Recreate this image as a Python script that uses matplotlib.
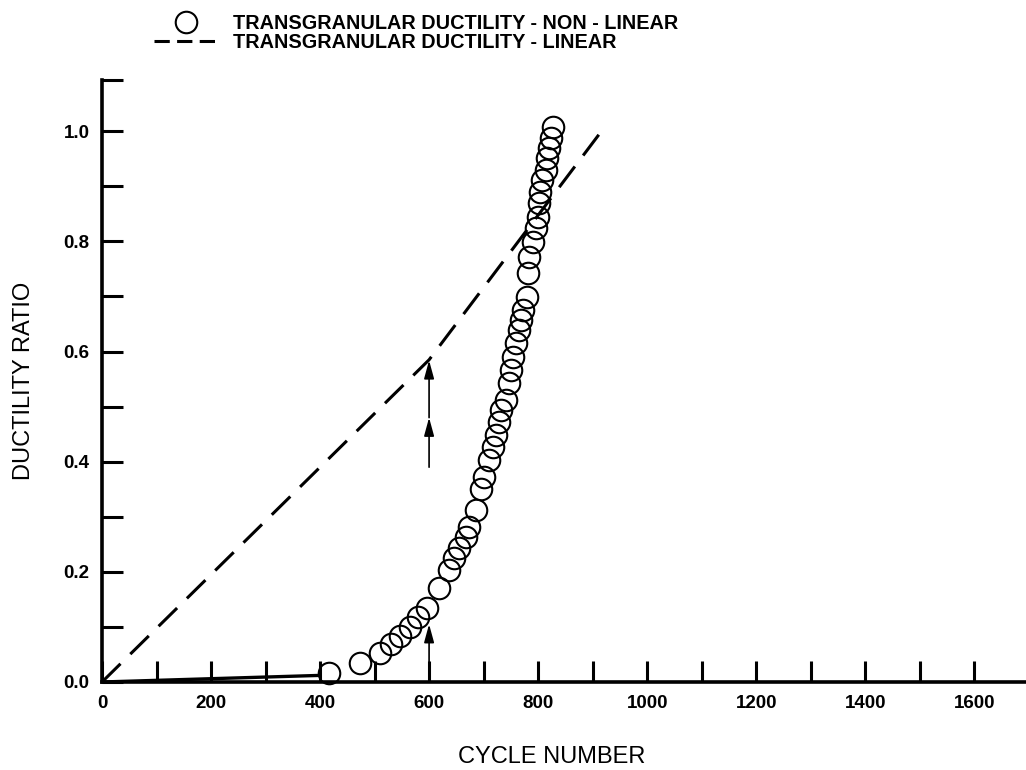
"""
Ductility ratio vs cycle number: transgranular ductility, linear and non-linear.
"""

import matplotlib
matplotlib.use("Agg")
import matplotlib.pyplot as plt
from matplotlib.lines import Line2D

plt.rcParams.update({
    "font.family": ["Liberation Sans", "DejaVu Sans"],
    "axes.spines.top": False,
    "axes.spines.right": False,
})

# non-linear points (open circles)
NONLIN_CYCLES = [417, 474, 510, 530, 547, 565, 580, 596, 618, 637, 646, 655,
                 668, 673, 686, 695, 701, 710, 717, 722, 728, 732, 741, 746,
                 750, 754, 759, 765, 768, 772, 779, 781, 783, 790, 796, 799,
                 801, 803, 808, 814, 817, 820, 823, 827]
NONLIN_RATIO = [0.016, 0.034, 0.053, 0.069, 0.084, 0.100, 0.118, 0.134, 0.171,
                0.203, 0.225, 0.243, 0.263, 0.281, 0.312, 0.350, 0.372, 0.403,
                0.427, 0.448, 0.472, 0.494, 0.512, 0.543, 0.566, 0.590, 0.615,
                0.639, 0.657, 0.675, 0.699, 0.742, 0.771, 0.799, 0.824, 0.844,
                0.869, 0.889, 0.911, 0.929, 0.951, 0.969, 0.987, 1.007]

# linear rule (dashed), kinks at 600 cycles
LINEAR_CYCLES = [0, 600, 920]
LINEAR_RATIO = [0.0, 0.585, 1.005]

# early solid segment
INIT_CYCLES = [0, 400]
INIT_RATIO = [0.0, 0.012]

# arrows at 600 cycles: (x, y_from, y_to)
ARROWS = [(600, 0.39, 0.48), (600, 0.48, 0.584), (600, 0.036, 0.105)]

X_MAX = 1695
Y_MAX = 1.093
X_TICKS = list(range(100, 1700, 100))
X_LABELS = [str(t) if t % 200 == 0 else "" for t in X_TICKS]
Y_TICKS = [i / 10 for i in range(11)]
Y_LABELS = [f"{t:.1f}" if i % 2 == 0 else "" for i, t in enumerate(Y_TICKS)]

fig = plt.figure(figsize=(10.26, 7.70), dpi=100)
ax = fig.add_axes([102 / 1026, 88 / 770, 924 / 1026, 602 / 770])

ax.plot(INIT_CYCLES, INIT_RATIO, color="black", linewidth=2.4,
        solid_capstyle="butt")
ax.plot(LINEAR_CYCLES, LINEAR_RATIO, color="black", linewidth=2.2,
        dashes=(8.5, 4.5))
ax.plot(NONLIN_CYCLES, NONLIN_RATIO, linestyle="none", marker="o",
        markersize=15.5, markerfacecolor="none", markeredgecolor="black",
        markeredgewidth=1.5, clip_on=False)

for x, y0, y1 in ARROWS:
    ax.annotate("", xy=(x, y1), xytext=(x, y0),
                arrowprops=dict(arrowstyle="-|>,head_length=0.55,head_width=0.15",
                                color="black", lw=1.2, shrinkA=0, shrinkB=0,
                                mutation_scale=20))

ax.set_xlim(0, X_MAX)
ax.set_ylim(0, Y_MAX)
ax.set_xticks([0] + X_TICKS)
ax.set_xticklabels(["0"] + X_LABELS)
ax.set_yticks(Y_TICKS)
ax.set_yticklabels(Y_LABELS)
ax.set_yticks([Y_MAX], minor=True)
ax.tick_params(axis="both", which="both", direction="in", length=15,
               width=2.2, pad=9, labelsize=13.5)
for lab in ax.get_xticklabels() + ax.get_yticklabels():
    lab.set_fontweight("bold")
for side in ("left", "bottom"):
    ax.spines[side].set_linewidth(2.6)

ax.set_xlabel("CYCLE NUMBER", fontsize=17)
ax.xaxis.set_label_coords(0.487, -0.106)
ax.set_ylabel("DUCTILITY RATIO", fontsize=17)
ax.yaxis.set_label_coords(-0.072, 0.5)

handles = [
    Line2D([], [], linestyle="none", marker="o", markersize=15.5,
           markerfacecolor="none", markeredgecolor="black", markeredgewidth=1.5),
    Line2D([], [], color="black", linewidth=2.2, dashes=(5, 2.4)),
]
labels = ["TRANSGRANULAR DUCTILITY - NON - LINEAR",
          "TRANSGRANULAR DUCTILITY - LINEAR"]
fig.legend(handles, labels, loc="upper left",
           bbox_to_anchor=(154 / 1026, 1 - 14 / 770), frameon=False,
           borderpad=0, borderaxespad=0, handlelength=3.2, handletextpad=0.8,
           labelspacing=0.0, prop={"size": 14.3, "weight": "bold"})

fig.savefig("out.png", dpi=100)
